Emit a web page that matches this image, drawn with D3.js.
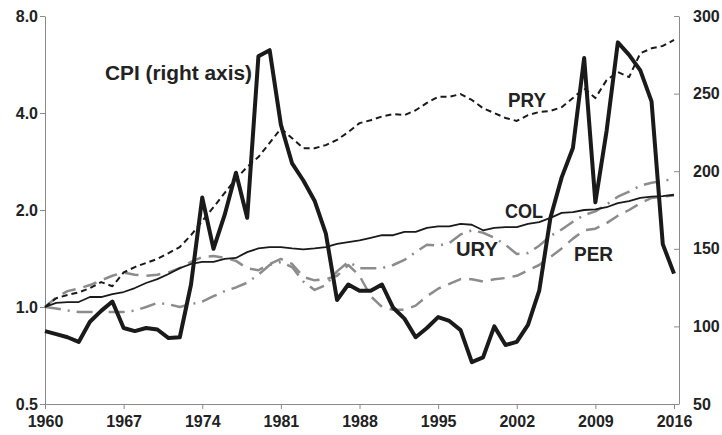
<!DOCTYPE html>
<html>
<head>
<meta charset="utf-8">
<script src="https://cdn.jsdelivr.net/npm/d3@7"></script>
<style>
  body { margin: 0; background: #fff; }
  text { font-family: "Liberation Sans", Arial, sans-serif; font-weight: bold; }
</style>
</head>
<body>
<div id="chart"></div>
<script>
// years 1960..2016
var years = d3.range(1960, 2017);

// CPI, right axis
var cpi = [97, 95, 93, 90, 103, 110, 116, 99, 97, 99, 98, 92.5, 93, 127, 183, 150, 172, 199, 170, 274,
  278, 230, 205, 194, 181, 160, 117, 127, 123, 123, 127, 112, 105, 93, 99, 106, 103.5, 97.6, 77, 80,
  100, 88, 90, 101, 123, 170, 196, 215, 273, 180, 226, 283, 275, 265, 245, 153, 134];

// left axis (log)
var pry = [1.0, 1.065, 1.09, 1.11, 1.145, 1.195, 1.16, 1.28, 1.33, 1.37, 1.41, 1.47, 1.535, 1.67, 1.85, 2.04, 2.26, 2.5, 2.72, 2.92,
  3.23, 3.58, 3.34, 3.11, 3.11, 3.18, 3.3, 3.49, 3.72, 3.8, 3.9, 3.97, 3.94, 4.08, 4.3, 4.49, 4.49, 4.58, 4.39, 4.14,
  4.0, 3.86, 3.78, 3.94, 4.03, 4.06, 4.17, 4.45, 4.77, 4.45, 5.06, 5.36, 5.17, 6.13, 6.35, 6.46, 6.74];
var col = [1.0, 1.03, 1.036, 1.036, 1.074, 1.074, 1.097, 1.113, 1.145, 1.187, 1.22, 1.266, 1.32, 1.36, 1.38, 1.38, 1.41, 1.42, 1.48, 1.52,
  1.535, 1.535, 1.52, 1.51, 1.52, 1.535, 1.57, 1.59, 1.61, 1.64, 1.67, 1.67, 1.71, 1.71, 1.76, 1.78, 1.78, 1.81, 1.8, 1.73,
  1.76, 1.77, 1.77, 1.81, 1.835, 1.89, 1.96, 1.97, 2.0, 2.01, 2.04, 2.1, 2.13, 2.18, 2.2, 2.21, 2.23];
var ury = [1.0, 0.99, 0.975, 0.965, 0.965, 0.965, 0.965, 0.965, 0.975, 1.0, 1.03, 1.02, 1.0, 1.02, 1.04, 1.08, 1.12, 1.15, 1.19, 1.26,
  1.35, 1.38, 1.33, 1.2, 1.13, 1.17, 1.29, 1.38, 1.32, 1.32, 1.32, 1.35, 1.4, 1.48, 1.56, 1.55, 1.58, 1.68, 1.73, 1.7,
  1.64, 1.56, 1.46, 1.47, 1.55, 1.66, 1.74, 1.84, 1.93, 1.98, 2.08, 2.2, 2.28, 2.38, 2.43, 2.46, 2.5];
var per = [1.0, 1.07, 1.12, 1.14, 1.17, 1.21, 1.25, 1.28, 1.26, 1.25, 1.26, 1.28, 1.32, 1.38, 1.43, 1.44, 1.42, 1.39, 1.32, 1.3,
  1.36, 1.41, 1.36, 1.24, 1.21, 1.22, 1.25, 1.35, 1.25, 1.08, 1.0, 0.98, 0.98, 1.01, 1.08, 1.14, 1.18, 1.22, 1.22, 1.2,
  1.22, 1.23, 1.25, 1.3, 1.35, 1.43, 1.52, 1.63, 1.73, 1.75, 1.82, 1.92, 2.0, 2.1, 2.18, 2.2, 2.22];

var xTicks = [1960, 1967, 1974, 1981, 1988, 1995, 2002, 2009, 2016];
var leftTicks = [0.5, 1, 2, 4, 8];
var rightTicks = [50, 100, 150, 200, 250, 300];

var W = 722, H = 435;
var plotLeft = 45, plotRight = 679, plotTop = 16, plotBottom = 404;

var svg = d3.select("#chart").append("svg")
    .attr("width", W)
    .attr("height", H);

var x = d3.scaleLinear().domain([1960, 2016]).range([plotLeft, 674]);
var yL = d3.scaleLog().base(2).domain([0.5, 8]).range([plotBottom, plotTop]);
var yR = d3.scaleLinear().domain([50, 300]).range([plotBottom, plotTop]);

var axisColor = "#8a8a8a";

// axes
var gx = svg.append("g")
    .attr("transform", "translate(0," + plotBottom + ")")
    .call(d3.axisBottom(x).tickValues(xTicks).tickFormat(d3.format("d")).tickSize(5).tickSizeOuter(0).tickPadding(7));
gx.select(".domain").attr("d", "M" + plotLeft + ",0.5H" + plotRight);

var gl = svg.append("g")
    .attr("transform", "translate(" + plotLeft + ",0)")
    .call(d3.axisLeft(yL).tickValues(leftTicks).tickFormat(d3.format(".1f")).tickSize(5).tickSizeOuter(0).tickPadding(2));

var gr = svg.append("g")
    .attr("transform", "translate(" + plotRight + ",0)")
    .call(d3.axisRight(yR).tickValues(rightTicks).tickFormat(d3.format("d")).tickSizeInner(-5).tickSizeOuter(0).tickPadding(14));

svg.selectAll(".domain, .tick line").attr("stroke", axisColor);
svg.selectAll(".tick text").attr("fill", "#222").style("font-size", "16px");

// lines
function draw(vals, scale, color, width, dash) {
    var line = d3.line()
        .x(function(d, i) { return x(years[i]); })
        .y(function(d) { return scale(d); });
    svg.append("path")
        .datum(vals)
        .attr("d", line)
        .attr("fill", "none")
        .attr("stroke", color)
        .attr("stroke-width", width)
        .attr("stroke-linejoin", "round")
        .attr("stroke-dasharray", dash);
}

draw(per, yL, "#8c8c8c", 2.5, "14,8");
draw(ury, yL, "#8c8c8c", 2.5, "16,7,2,7");
draw(pry, yL, "#1a1a1a", 2, "6,4");
draw(col, yL, "#1a1a1a", 1.8, null);
draw(cpi, yR, "#1a1a1a", 4, null);

// labels
var labels = [
    {t: "CPI (right axis)", x: 105, y: 80, w: 147},
    {t: "PRY", x: 508, y: 107, w: 38},
    {t: "COL", x: 505, y: 218, w: 38},
    {t: "URY", x: 456, y: 256, w: 42},
    {t: "PER", x: 574, y: 261, w: 39}
];
svg.selectAll(".lbl").data(labels).enter().append("text")
    .attr("class", "lbl")
    .attr("x", function(d) { return d.x; })
    .attr("y", function(d) { return d.y; })
    .attr("textLength", function(d) { return d.w; })
    .attr("lengthAdjust", "spacingAndGlyphs")
    .attr("fill", "#222")
    .style("font-size", "20px")
    .text(function(d) { return d.t; });
</script>
</body>
</html>
